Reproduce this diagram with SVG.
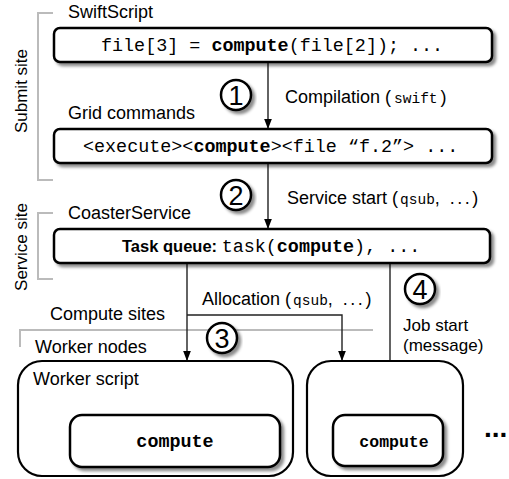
<svg xmlns="http://www.w3.org/2000/svg" width="509" height="479" viewBox="0 0 509 479">
<style>
.box{fill:#fff;stroke:#000;stroke-width:2.5}
.wbox{fill:#fff;stroke:#000;stroke-width:2.2}
.lbl{font-family:"Liberation Sans",Arial,sans-serif;font-size:18px;fill:#000}
.side{font-family:"Liberation Sans",Arial,sans-serif;font-size:17px;fill:#000}
.mono{font-family:"Liberation Mono","Courier New",monospace;font-size:18.4px;fill:#000}
.smono{font-family:"Liberation Mono","Courier New",monospace;font-size:14.5px}
.sp{letter-spacing:2.5px}
.b{font-weight:bold}
.brk{fill:none;stroke:#bbb;stroke-width:2}
.con{fill:none;stroke:#222;stroke-width:1.4}
.circ{fill:#fff;stroke:#000;stroke-width:2.5}
.num{font-family:"Liberation Sans",Arial,sans-serif;font-size:27px;fill:#000;text-anchor:middle}
</style>
<defs>
<filter id="sh" x="-10%" y="-20%" width="130%" height="160%">
<feDropShadow dx="3" dy="3" stdDeviation="1.6" flood-color="#000" flood-opacity="0.45"/>
</filter>
<marker id="ah" markerWidth="10" markerHeight="13" refX="13" refY="5" orient="auto" markerUnits="userSpaceOnUse" viewBox="0 0 13 10">
<path d="M0,0 L13,5 L0,10 z" fill="#000"/>
</marker>
</defs>

<g id="brackets">
<path class="brk" d="M53,13 H38 V180 H53"/>
<text class="side" transform="translate(27,91) rotate(-90)" text-anchor="middle">Submit site</text>
<path class="brk" d="M53,213 H38 V279 H53"/>
<text class="side" transform="translate(27,247) rotate(-90)" text-anchor="middle">Service site</text>
<path class="brk" d="M20,347 V330 H373"/>
<text class="lbl" x="50" y="320">Compute sites</text>
<text class="lbl" x="35" y="353">Worker nodes</text>
</g>

<g id="connectors">
<line class="con" x1="268" y1="62" x2="268" y2="129" marker-end="url(#ah)"/>
<line class="con" x1="268" y1="163" x2="268" y2="229" marker-end="url(#ah)"/>
<line class="con" x1="187" y1="263" x2="187" y2="361" marker-end="url(#ah)"/>
<path class="con" d="M187,315 H342 V361" marker-end="url(#ah)"/>
<line class="con" x1="390" y1="263" x2="390" y2="415" marker-end="url(#ah)"/>
<text class="lbl" x="285" y="103">Compilation (<tspan class="smono" dx="3">swift</tspan><tspan dx="3">)</tspan></text>
<text class="lbl" x="287" y="204">Service start (<tspan class="smono" dx="2">qsub</tspan><tspan class="sp">, ...</tspan>)</text>
<text class="lbl" x="202" y="305">Allocation (<tspan class="smono" dx="2">qsub</tspan><tspan class="sp">, ...</tspan>)</text>
<text class="lbl" x="403" y="331" style="font-size:17px">Job start</text>
<text class="lbl" x="403" y="351" style="font-size:17px">(message)</text>
</g>

<g id="step1">
<circle class="circ" cx="236" cy="95" r="15" filter="url(#sh)"/>
<text class="num" x="236" y="104.5">1</text>
</g>
<g id="step2">
<circle class="circ" cx="236" cy="195" r="15" filter="url(#sh)"/>
<text class="num" x="236" y="204.5">2</text>
</g>
<g id="step3">
<circle class="circ" cx="222" cy="338" r="15" filter="url(#sh)"/>
<text class="num" x="222" y="347.5">3</text>
</g>
<g id="step4">
<circle class="circ" cx="420" cy="289" r="15" filter="url(#sh)"/>
<text class="num" x="420" y="298.5">4</text>
</g>

<g id="swiftscript">
<text class="lbl" x="68" y="18">SwiftScript</text>
<rect class="box" x="54" y="28" width="438" height="34" rx="6" filter="url(#sh)"/>
<text class="mono" x="101" y="51">file[3] = <tspan class="b">compute</tspan>(file[2]); ...</text>
</g>

<g id="gridcommands">
<text class="lbl" x="68" y="119">Grid commands</text>
<rect class="box" x="54" y="129" width="438" height="34" rx="6" filter="url(#sh)"/>
<text class="mono" x="83" y="152">&lt;execute&gt;&lt;<tspan class="b">compute</tspan>&gt;&lt;file “f.2”&gt; ...</text>
</g>

<g id="coasterservice">
<text class="lbl" x="68" y="219">CoasterService</text>
<rect class="box" x="54" y="229" width="436" height="34" rx="6" filter="url(#sh)"/>
<text x="122" y="252"><tspan class="b" style="font-family:'Liberation Sans',Arial,sans-serif;font-size:16.5px">Task queue: </tspan><tspan class="mono">task(<tspan class="b">compute</tspan>), ...</tspan></text>
</g>

<g id="worker1">
<rect class="wbox" x="18" y="361" width="275" height="115" rx="24"/>
<text class="lbl" x="33" y="385">Worker script</text>
<rect class="box" x="70" y="415" width="210" height="52" rx="12" filter="url(#sh)"/>
<text class="mono b" x="175" y="447" text-anchor="middle">compute</text>
</g>

<g id="worker2">
<rect class="wbox" x="307" y="361" width="156" height="115" rx="24"/>
<rect class="box" x="333" y="415" width="110" height="51" rx="12" filter="url(#sh)"/>
<text class="mono b" x="394" y="447" text-anchor="middle" style="font-size:16.5px">compute</text>
</g>

<g id="more">
<text x="484" y="437" style="font-family:'Liberation Sans',Arial,sans-serif;font-size:28px;font-weight:bold">...</text>
</g>
</svg>
